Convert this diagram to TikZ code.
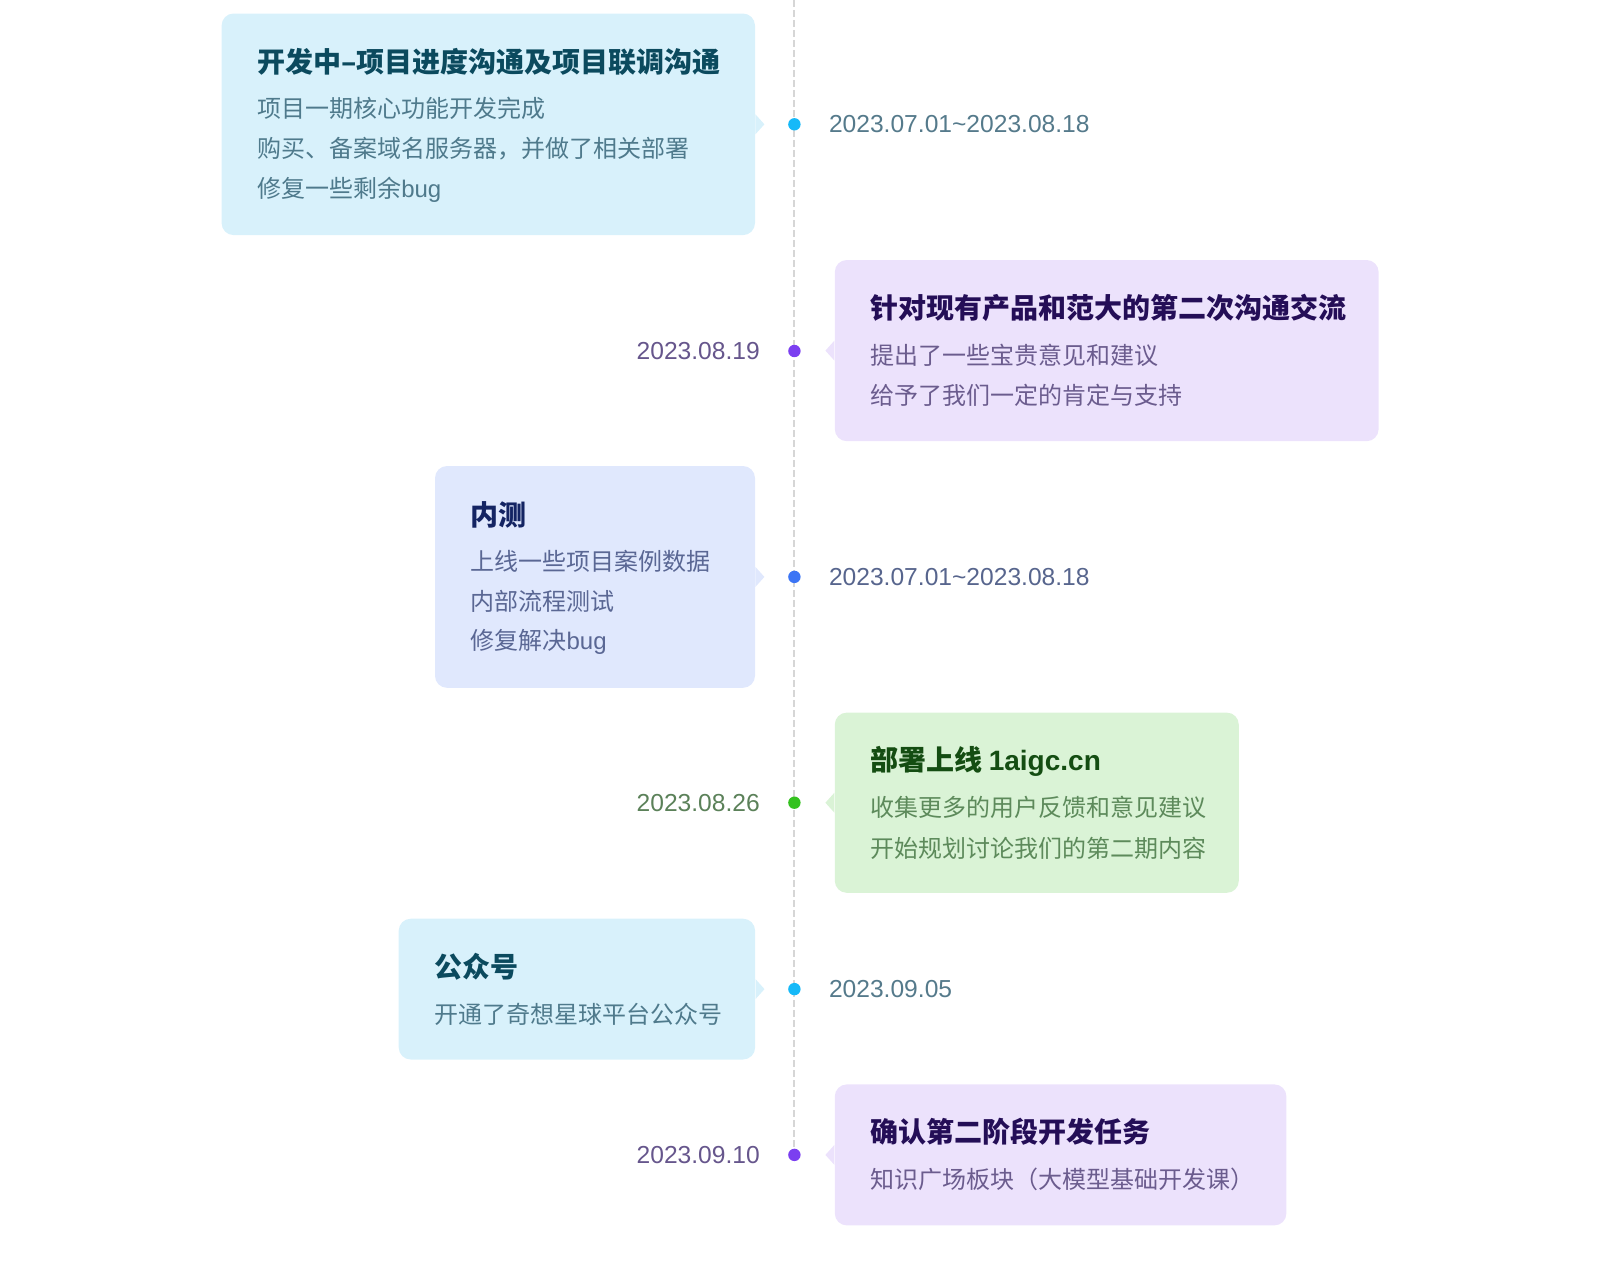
\documentclass[tikz,border=0pt]{standalone}
\usepackage{fontspec}
\setmainfont{Noto Sans CJK SC}
\newfontfamily\lat{Liberation Sans}
\usetikzlibrary{calc}
\definecolor{blueF}{HTML}{D8F1FB}
\definecolor{blueT}{HTML}{0B4A5E}
\definecolor{blueB}{HTML}{4F7A8C}
\definecolor{blueD}{HTML}{16B9F8}
\definecolor{blueDate}{HTML}{557A8B}
\definecolor{purF}{HTML}{ECE2FC}
\definecolor{purT}{HTML}{240E57}
\definecolor{purB}{HTML}{6B5C8E}
\definecolor{purD}{HTML}{7B3FF0}
\definecolor{purDate}{HTML}{66568C}
\definecolor{indF}{HTML}{E0E8FD}
\definecolor{indT}{HTML}{142463}
\definecolor{indB}{HTML}{5A6794}
\definecolor{indD}{HTML}{3C75F5}
\definecolor{indDate}{HTML}{57658D}
\definecolor{grnF}{HTML}{DAF3D6}
\definecolor{grnT}{HTML}{144D12}
\definecolor{grnB}{HTML}{5D8A5B}
\definecolor{grnD}{HTML}{34C21F}
\definecolor{grnDate}{HTML}{5B8159}
\definecolor{lineC}{HTML}{D6D6D6}
\begin{document}
\begin{tikzpicture}[x=0.5pt,y=-0.5pt,
  box/.style={rounded corners=6pt, inner sep=0pt, draw=none},
  ttl/.style={anchor=west, inner sep=0pt, font=\fontsize{14}{16}\selectfont\bfseries},
  txt/.style={anchor=west, inner sep=0pt, font=\fontsize{12}{14}\selectfont},
  datel/.style={anchor=east, inner sep=0pt, font=\lat\fontsize{12.3}{14}\selectfont},
  dater/.style={anchor=west, inner sep=0pt, font=\lat\fontsize{12.3}{14}\selectfont},
  tdot/.style={circle, inner sep=0pt, minimum size=6.2pt},
  tl/.style={draw=lineC, line width=1pt, dash pattern=on 3.5pt off 1.5pt}]
\useasboundingbox (0,0) rectangle (1624,1260);

% timeline
\coordinate (top) at (794.4,0);
\node[tdot] (d1) at (794.4,124.3) {};
\node[tdot] (d2) at (794.4,351) {};
\node[tdot] (d3) at (794.4,576.9) {};
\node[tdot] (d4) at (794.4,802.7) {};
\node[tdot] (d5) at (794.4,989.1) {};
\node[tdot] (d6) at (794.4,1154.9) {};
\path[tl] (top) -- (d6.center);
\fill[blueD] (d1) circle[radius=3.1pt];
\fill[purD] (d2) circle[radius=3.1pt];
\fill[indD] (d3) circle[radius=3.1pt];
\fill[grnD] (d4) circle[radius=3.1pt];
\fill[blueD] (d5) circle[radius=3.1pt];
\fill[purD] (d6) circle[radius=3.1pt];

% boxes
\node[box, fill=blueF, minimum width=266.7pt, minimum height=110.8pt] (b1) at (488.3,124.3) {};
\node[box, fill=purF, minimum width=271.9pt, minimum height=90.6pt] (b2) at (1106.7,350.6) {};
\node[box, fill=indF, minimum width=160pt, minimum height=110.9pt] (b3) at (595,576.9) {};
\node[box, fill=grnF, minimum width=202pt, minimum height=90.1pt] (b4) at (1036.8,802.7) {};
\node[box, fill=blueF, minimum width=178.2pt, minimum height=70.4pt] (b5) at (576.9,989.1) {};
\node[box, fill=purF, minimum width=225.8pt, minimum height=70.5pt] (b6) at (1060.6,1154.9) {};

% pointers
\fill[blueF] ($(b1.east)+(0,-10)$) -- ($(b1.east)+(9,0)$) -- ($(b1.east)+(0,10)$) -- cycle;
\fill[indF] ($(b3.east)+(0,-10)$) -- ($(b3.east)+(9,0)$) -- ($(b3.east)+(0,10)$) -- cycle;
\fill[blueF] ($(b5.east)+(0,-10)$) -- ($(b5.east)+(9,0)$) -- ($(b5.east)+(0,10)$) -- cycle;
\fill[purF] ($(b2.west)+(0,-10)$) -- ($(b2.west)+(-9,0)$) -- ($(b2.west)+(0,10)$) -- cycle;
\fill[grnF] ($(b4.west)+(0,-10)$) -- ($(b4.west)+(-9,0)$) -- ($(b4.west)+(0,10)$) -- cycle;
\fill[purF] ($(b6.west)+(0,-10)$) -- ($(b6.west)+(-9,0)$) -- ($(b6.west)+(0,10)$) -- cycle;

% box 1
\node[ttl, text=blueT] (t1) at (256.9,62.1) {开发中–项目进度沟通及项目联调沟通};
\node[txt, text=blueB] (t1a) at (256.9,108.7) {项目一期核心功能开发完成};
\node[txt, text=blueB] (t1b) at (256.9,149.1) {购买、备案域名服务器，并做了相关部署};
\node[txt, text=blueB] (t1c) at (256.9,189.5) {修复一些剩余{\lat bug}};
\node[dater, text=blueDate] (dt1) at (828.6,124.3) {2023.07.01\textasciitilde 2023.08.18};

% box 2
\node[ttl, text=purT] (t2) at (870,307.6) {针对现有产品和范大的第二次沟通交流};
\node[txt, text=purB] (t2a) at (870,355.2) {提出了一些宝贵意见和建议};
\node[txt, text=purB] (t2b) at (870,395.6) {给予了我们一定的肯定与支持};
\node[datel, text=purDate] (dt2) at (760.2,351) {2023.08.19};

% box 3
\node[ttl, text=indT] (t3) at (470.2,514.7) {内测};
\node[txt, text=indB] (t3a) at (470.2,561.3) {上线一些项目案例数据};
\node[txt, text=indB] (t3b) at (470.2,601.7) {内部流程测试};
\node[txt, text=indB] (t3c) at (470.2,642.1) {修复解决{\lat bug}};
\node[dater, text=indDate] (dt3) at (828.6,576.9) {2023.07.01\textasciitilde 2023.08.18};

% box 4
\node[ttl, text=grnT] (t4) at (870,761.2) {部署上线 {\lat\bfseries 1aigc.cn}};
\node[txt, text=grnB] (t4a) at (870,807.8) {收集更多的用户反馈和意见建议};
\node[txt, text=grnB] (t4b) at (870,848.2) {开始规划讨论我们的第二期内容};
\node[datel, text=grnDate] (dt4) at (760.2,802.7) {2023.08.26};

% box 5
\node[ttl, text=blueT] (t5) at (434,966.3) {公众号};
\node[txt, text=blueB] (t5a) at (434,1014) {开通了奇想星球平台公众号};
\node[dater, text=blueDate] (dt5) at (828.6,989.1) {2023.09.05};

% box 6
\node[ttl, text=purT] (t6) at (870,1132) {确认第二阶段开发任务};
\node[txt, text=purB] (t6a) at (870,1179.7) {知识广场板块（大模型基础开发课）};
\node[datel, text=purDate] (dt6) at (760.2,1154.9) {2023.09.10};
\end{tikzpicture}
\end{document}
